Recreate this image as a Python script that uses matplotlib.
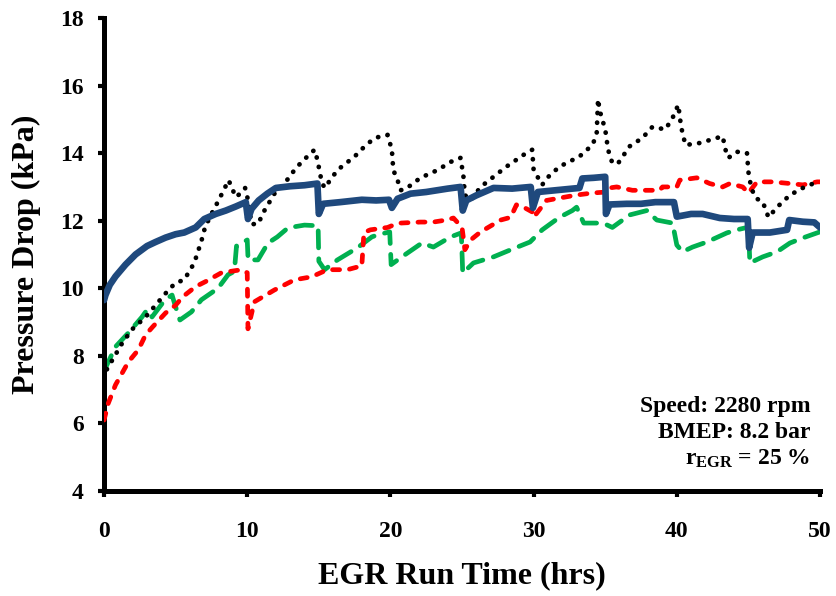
import matplotlib
matplotlib.use("Agg")
import matplotlib.pyplot as plt

# --- data -----------------------------------------------------------------
blue_x = [0.0, 0.1, 0.4, 0.8, 1.5, 2.2, 3.0, 3.6, 4.3, 5.0, 5.6, 6.4, 7.0, 7.8,
          8.5, 9.2, 9.9, 10.05, 10.3, 10.8, 11.4, 12.0, 13.0, 14.0, 14.9, 15.0,
          15.3, 16.5, 18.0, 19.0, 19.9, 20.1, 20.5, 21.4, 22.5, 24.0, 24.9,
          25.05, 25.3, 26.0, 27.2, 28.5, 29.8, 29.95, 30.3, 31.5, 33.2, 33.4,
          34.2, 35.0, 35.05, 35.3, 36.5, 37.5, 38.5, 39.8, 40.0, 41.0, 41.8,
          43.0, 44.0, 44.95, 45.05, 45.3, 46.5, 47.7, 47.85, 48.8, 49.6, 50.0]
blue_y = [9.65, 9.8, 10.1, 10.35, 10.7, 11.0, 11.25, 11.37, 11.5, 11.6, 11.65,
          11.8, 12.05, 12.2, 12.3, 12.42, 12.55, 12.05, 12.35, 12.6, 12.8, 12.97,
          13.02, 13.05, 13.1, 12.2, 12.5, 12.55, 12.62, 12.6, 12.62, 12.38,
          12.65, 12.8, 12.85, 12.95, 13.0, 12.3, 12.6, 12.75, 12.97, 12.95,
          13.0, 12.38, 12.85, 12.9, 12.97, 13.25, 13.27, 13.3, 12.2, 12.48,
          12.5, 12.5, 12.55, 12.55, 12.12, 12.2, 12.2, 12.08, 12.05, 12.05,
          11.2, 11.65, 11.65, 11.73, 12.02, 11.97, 11.95, 11.8]

black_x = [0.2, 1.3, 2.0, 2.9, 3.8, 4.5, 5.0, 5.6, 6.3, 6.8, 7.05, 7.5, 8.0,
           8.7, 9.0, 9.2, 9.5, 9.85, 10.06, 10.3, 10.75, 11.2, 11.9, 12.6,
           13.3, 13.8, 14.7, 14.9, 15.2, 15.4, 16.3, 17.5, 18.2, 18.9, 19.8,
           20.1, 20.2, 20.5, 20.7, 21.1, 22.1, 23.3, 24.2, 24.9, 25.1, 25.2,
           25.6, 26.3, 27.2, 28.1, 29.3, 29.9, 30.0, 30.6, 30.9, 31.8, 33.2,
           34.1, 34.4, 34.5, 34.6, 35.0, 35.2, 35.5, 35.9, 36.7, 37.6, 38.3,
           39.2, 39.7, 40.1, 40.3, 40.6, 41.6, 42.8, 43.2, 43.4, 43.6, 44.2,
           44.9, 45.0, 45.2, 45.5, 46.0, 46.4, 47.0, 47.9, 48.8, 49.8]
black_y = [7.6, 8.4, 8.8, 9.15, 9.6, 9.95, 10.16, 10.25, 10.75, 11.4, 11.8,
           12.2, 12.6, 13.2, 12.9, 12.7, 12.8, 12.97, 12.6, 11.9, 11.9, 12.3,
           12.8, 13.1, 13.5, 13.74, 14.1, 13.8, 13.15, 12.97, 13.5, 13.9, 14.2,
           14.45, 14.54, 14.1, 13.5, 13.2, 12.9, 12.95, 13.27, 13.5, 13.74,
           13.86, 13.3, 12.76, 12.6, 13.0, 13.3, 13.6, 13.95, 14.1, 13.5, 13.06,
           13.25, 13.6, 13.9, 14.24, 14.54, 15.6, 15.28, 14.7, 14.1, 13.7, 13.7,
           14.2, 14.45, 14.78, 14.7, 15.04, 15.43, 14.78, 14.24, 14.3, 14.45,
           14.5, 14.1, 13.86, 14.04, 14.0, 13.44, 12.97, 12.67, 12.56, 12.1,
           12.4, 12.76, 12.97, 13.15]

red_x = [0.0, 0.3, 0.8, 1.7, 2.4, 2.9, 3.4, 4.3, 5.0, 5.5, 6.4, 7.1, 8.2, 9.6,
         10.0, 10.05, 10.5, 11.9, 13.3, 14.5, 15.6, 17.0, 17.7, 18.0, 18.15,
         18.6, 19.8, 20.2, 20.7, 22.1, 23.0, 23.9, 24.4, 25.0, 25.2, 25.6,
         26.3, 27.7, 28.4, 28.8, 29.3, 29.9, 30.0, 30.9, 31.8, 33.0, 34.1,
         35.1, 35.3, 35.8, 36.9, 38.8, 39.0, 40.0, 40.2, 41.4, 42.3, 43.2,
         43.7, 44.6, 45.0, 45.6, 46.7, 47.9, 48.8, 49.8, 50.0]
red_y = [6.1, 6.6, 7.14, 7.82, 8.18, 8.62, 8.86, 9.27, 9.5, 9.75, 10.05, 10.2,
         10.46, 10.55, 10.46, 8.8, 9.6, 9.95, 10.25, 10.34, 10.55, 10.55,
         10.63, 10.65, 11.65, 11.73, 11.8, 11.87, 11.93, 11.96, 11.96, 12.02,
         12.08, 11.8, 11.14, 11.43, 11.67, 12.02, 12.1, 12.47, 12.4, 12.26,
         12.1, 12.6, 12.67, 12.76, 12.82, 12.85, 12.97, 13.0, 12.9, 12.9,
         13.0, 13.0, 13.2, 13.27, 13.1, 13.0, 13.1, 13.0, 12.82, 13.15, 13.15,
         13.1, 13.06, 13.15, 13.15]

green_x = [0.0, 0.8, 1.7, 2.65, 3.0, 3.35, 4.26, 4.75, 4.96, 5.3, 6.1, 6.8,
           7.96, 8.66, 9.1, 9.25, 10.0, 10.06, 10.75, 11.45, 12.1, 12.85, 14.0,
           14.95, 15.0, 15.4, 16.3, 17.7, 18.7, 19.1, 19.95, 20.05, 20.8, 22.2,
           23.0, 24.2, 24.95, 25.05, 25.8, 27.2, 28.4, 29.75, 30.6, 31.8, 32.7,
           33.0, 33.5, 34.85, 35.5, 36.7, 37.9, 38.6, 39.7, 40.0, 40.4, 41.1,
           42.1, 43.5, 44.2, 44.9, 45.0, 45.1, 46.0, 47.0, 47.9, 48.8, 50.0]
green_y = [7.55, 8.27, 8.68, 9.15, 9.36, 9.15, 9.66, 9.8, 9.5, 9.06, 9.3, 9.66,
           10.0, 10.4, 10.5, 11.25, 11.43, 10.84, 10.84, 11.34, 11.52, 11.79,
           11.87, 11.85, 10.8, 10.55, 10.84, 11.2, 11.52, 11.58, 11.67, 10.7,
           10.93, 11.34, 11.22, 11.52, 11.64, 10.45, 10.75, 10.93, 11.14, 11.37,
           11.73, 12.1, 12.3, 12.4, 11.93, 11.93, 11.8, 12.17, 12.3, 12.02,
           11.93, 11.28, 11.08, 11.22, 11.37, 11.64, 11.73, 11.8, 11.9, 10.75,
           10.93, 11.08, 11.34, 11.49, 11.67]

x_ticks = [0, 10, 20, 30, 40, 50]
y_ticks = [4, 6, 8, 10, 12, 14, 16, 18]
notes = ["Speed: 2280 rpm", "BMEP: 8.2 bar", r"$\mathbf{r_{EGR}}$ = 25 %"]

# --- style ----------------------------------------------------------------
plt.rcParams["font.family"] = ["Liberation Serif", "DejaVu Serif"]
plt.rcParams["font.weight"] = "bold"
plt.rcParams["mathtext.fontset"] = "custom"
plt.rcParams["mathtext.rm"] = "Liberation Serif:bold"
plt.rcParams["mathtext.bf"] = "Liberation Serif:bold"
plt.rcParams["mathtext.it"] = "Liberation Serif:bold"

fig = plt.figure(figsize=(8.37, 5.96), dpi=100)
ax = fig.add_axes([0.1243, 0.1762, 0.8554, 0.7936])

ax.plot(green_x, green_y, color="#00B050", lw=3.4, dashes=(3.6, 2.3),
        dash_capstyle="round", solid_capstyle="round", zorder=2)
ax.plot(red_x, red_y, color="#FF0000", lw=3.4, dashes=(1.5, 2.1),
        dash_capstyle="round", zorder=3)
ax.plot(black_x, black_y, color="black", lw=3.4, dashes=(0.05, 2.0),
        dash_capstyle="round", zorder=4)
ax.plot(blue_x, blue_y, color="#1F497D", lw=4.8, solid_capstyle="round",
        solid_joinstyle="round", zorder=5)

ax.set_xlim(0, 50)
ax.set_ylim(4, 18)
ax.set_xticks(x_ticks)
ax.set_yticks(y_ticks)

for side in ("top", "right"):
    ax.spines[side].set_visible(False)
for side in ("left", "bottom"):
    ax.spines[side].set_linewidth(3.6)
    ax.spines[side].set_capstyle("projecting")

ax.tick_params(axis="both", direction="out", length=4.5, width=3.0,
               labelsize=17, color="black")
ax.tick_params(axis="x", pad=17)
ax.tick_params(axis="y", pad=10)
for lab in ax.get_xticklabels() + ax.get_yticklabels():
    lab.set_fontweight("bold")

ax.set_xlabel("EGR Run Time (hrs)", fontsize=23, fontweight="bold", labelpad=14)
ax.set_ylabel("Pressure Drop (kPa)", fontsize=23, fontweight="bold", labelpad=14)

for i, txt in enumerate(notes):
    ax.text(0.987, 0.167 - i * 0.056, txt, transform=ax.transAxes,
            ha="right", va="baseline", fontsize=17, fontweight="bold")

fig.savefig("out.png", dpi=100)
